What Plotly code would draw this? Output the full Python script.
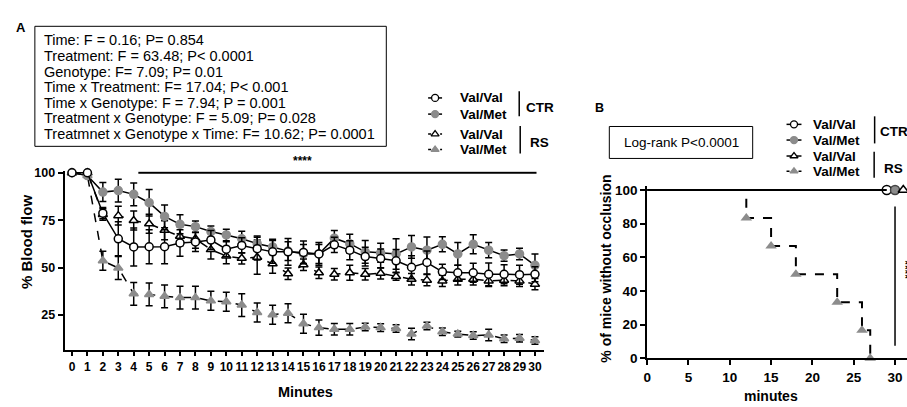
import plotly.graph_objects as go

# ---------------- Panel A data ----------------
minutes = list(range(31))
x_ticks_a = list(range(31))
y_ticks_a = [25, 50, 75, 100]

ctr_valval = [100, 100, 78.7, 65.2, 60.9, 61, 61, 63, 63.5, 64.5, 59.7, 61.7, 60, 58.3, 58.3,
              58, 57.2, 62, 59.2, 55.8, 54.8, 53.6, 50.2, 52.7, 47.8, 47.3, 47.3, 46.5, 46.5, 46.3, 46.5]
ctr_valval_err = [0, 0, 3, 9, 10, 9, 9, 7, 5, 5, 4, 4, 6, 6, 7,
                  6, 6, 4, 5, 5, 5, 6, 6, 6, 4, 4, 5, 6, 5, 5, 4]
ctr_valmet = [100, 98.5, 89.8, 90.6, 88.6, 84.2, 77, 72.8, 71.6, 69, 67.2, 65.2, 62.6, 60.9, 58.7,
              57.2, 57.2, 65.5, 62.6, 58.3, 57.8, 57.2, 60.9, 59.2, 62.3, 57.2, 62.3, 59.2, 56.3, 57.2, 51.2]
ctr_valmet_err = [0, 0, 5, 6, 6, 7, 6, 5, 3, 3, 3, 4, 4, 4, 5,
                  5, 5, 4, 5, 6, 5, 8, 6, 7, 4, 6, 5, 4, 3, 3, 6]
rs_valval = [100, 100, 78, 77.4, 74.8, 73.1, 69.7, 66.5, 65.2, 59.5, 56.1, 54.9, 55.5, 52, 46.8,
             51.5, 47.3, 46.5, 47.3, 46.5, 47, 45.3, 43.9, 43.4, 43, 43.9, 43.9, 43, 43.4, 43, 41.3]
rs_valval_err = [0, 0, 3, 5, 5, 5, 5, 5, 5, 5, 4, 3, 9, 5, 3,
                 3, 3, 3, 4, 3, 3, 2, 3, 3, 3, 3, 3, 3, 3, 3, 3]
rs_valmet = [100, 98.5, 53.6, 49.8, 36.2, 35.9, 34.9, 34.2, 34.2, 32.5, 32, 30.3, 26.4, 25.2, 26,
             20.4, 18.4, 17.5, 17.5, 18.7, 18.4, 17.9, 15, 19.2, 16.2, 15, 14.2, 14.5, 12.5, 12.8, 11.6]
rs_valmet_err = [0, 0, 5, 6, 6, 6, 6, 6, 6, 5, 5, 6, 5, 5, 5,
                 5, 4, 3, 3, 2, 2, 2, 3, 2, 2, 1.5, 2, 3, 2, 2, 2]
signif_span = [4.3, 30.1]

stats_lines = [
    "Time: F = 0.16; P= 0.854",
    "Treatment: F = 63.48; P< 0.0001",
    "Genotype: F= 7.09; P= 0.01",
    "Time x Treatment: F= 17.04; P< 0.001",
    "Time x Genotype: F = 7.94; P = 0.001",
    "Treatment x Genotype: F = 5.09; P= 0.028",
    "Treatmnet x Genotype x Time: F= 10.62; P= 0.0001",
]

# ---------------- Panel B data ----------------
km_rs_valmet_time = [0, 12, 15, 18, 23, 26, 27]
km_rs_valmet_pct = [100, 83.3, 66.7, 50, 33.3, 16.7, 0]
km_ctr_time = [0, 29]
km_ctr_pct = [100, 100]
censor_time = [29, 30, 31]   # end markers (Val/Val CTR, Val/Met CTR, Val/Val RS) as drawn
censor_pct = [100, 100, 100]
x_ticks_b = [0, 5, 10, 15, 20, 25, 30]
y_ticks_b = [0, 20, 40, 60, 80, 100]

FONT = "Liberation Sans, Arial, Helvetica, sans-serif"
GRAY = "#8c8c8c"
W, H = 907, 407

fig = go.Figure()

err_style = dict(type="data", thickness=1.5, width=3.5, color="black")

def series(x, y, e, symbol, fill, dash, name):
    fig.add_trace(go.Scatter(
        x=x, y=y, mode="lines+markers", name=name, xaxis="x", yaxis="y",
        line=dict(color="black", width=1.5, dash=dash),
        marker=dict(symbol=symbol, size=8, color=fill, line=dict(color="black" if fill == "white" else fill, width=1.5)),
        error_y=dict(array=e, **err_style), cliponaxis=False, showlegend=False))

series(minutes, rs_valmet, rs_valmet_err, "triangle-up", GRAY, "dash", "RS Val/Met")
series(minutes, rs_valval, rs_valval_err, "triangle-up", "white", "dash", "RS Val/Val")
series(minutes, ctr_valmet, ctr_valmet_err, "circle", GRAY, "solid", "CTR Val/Met")
series(minutes, ctr_valval, ctr_valval_err, "circle", "white", "solid", "CTR Val/Val")

# Panel B traces
fig.add_trace(go.Scatter(x=km_ctr_time, y=km_ctr_pct, mode="lines", xaxis="x2", yaxis="y2",
                         line=dict(color="black", width=2), cliponaxis=False, showlegend=False))
fig.add_trace(go.Scatter(x=km_rs_valmet_time, y=km_rs_valmet_pct, mode="lines", xaxis="x2", yaxis="y2",
                         line=dict(color="black", width=2, dash="dash", shape="hv"),
                         cliponaxis=False, showlegend=False))
fig.add_trace(go.Scatter(x=km_rs_valmet_time[1:], y=km_rs_valmet_pct[1:], mode="markers", xaxis="x2", yaxis="y2",
                         marker=dict(symbol="triangle-up", size=10, color=GRAY),
                         cliponaxis=False, showlegend=False))
fig.add_trace(go.Scatter(x=censor_time, y=censor_pct, mode="markers", xaxis="x2", yaxis="y2",
                         marker=dict(symbol=["circle-open", "circle", "triangle-up-open"], size=9,
                                     color=["black", GRAY, "black"], line=dict(width=1.5)),
                         cliponaxis=False, showlegend=False))

# ---------------- Legends (overlay pixel axis) ----------------
def leg_item(xl, xr, xm, y, symbol, fill, dash):
    fig.add_trace(go.Scatter(x=[xl, xr], y=[y, y], mode="lines", xaxis="x3", yaxis="y3",
                             line=dict(color="black", width=1.5, dash=dash), showlegend=False, hoverinfo="skip"))
    fig.add_trace(go.Scatter(x=[xm], y=[y], mode="markers", xaxis="x3", yaxis="y3",
                             marker=dict(symbol=symbol, size=7, color=fill,
                                         line=dict(color="black" if fill == "white" else fill, width=1.3)),
                             showlegend=False, hoverinfo="skip"))

leg_a_rows = [96, 112.7, 133.3, 149.3]
leg_b_rows = [123.3, 139.5, 156, 171.7]
leg_labels = ["Val/Val", "Val/Met", "Val/Val", "Val/Met"]
leg_a_sym = [("circle", "white", "solid"), ("circle", GRAY, "solid"),
             ("triangle-up", "white", "3px,3px"), ("triangle-up", GRAY, "3px,3px")]
leg_b_sym = [("circle", "white", "solid"), ("circle", GRAY, "solid"),
             ("triangle-up", "white", "solid"), ("triangle-up", GRAY, "3px,3px")]

annotations = []
shapes = []

def ann(x, y, text, size, bold=False, xanchor="left", textangle=0, yanchor="middle"):
    annotations.append(dict(x=x, y=y, xref="x3", yref="y3", text=f"<b>{text}</b>" if bold else text,
                            showarrow=False, xanchor=xanchor, yanchor=yanchor, textangle=textangle,
                            font=dict(family=FONT, size=size, color="black")))

for y, lab, (sym, fill, dash) in zip(leg_a_rows, leg_labels, leg_a_sym):
    leg_item(426, 440, 433, y, sym, fill, dash)
    ann(456, y, lab, 13.5, bold=True)
for y, lab, (sym, fill, dash) in zip(leg_b_rows, leg_labels, leg_b_sym):
    leg_item(786, 801, 793.5, y, sym, fill, dash)
    ann(811, y, lab, 13.5, bold=True)

# brackets
for (x, y0, y1) in [(517.5, 89, 115), (518.5, 125, 153.5), (874.5, 115, 143), (874, 151.5, 178.5)]:
    shapes.append(dict(type="line", xref="x3", yref="y3", x0=x, x1=x, y0=y0, y1=y1,
                       line=dict(color="black", width=1.5)))
ann(522, 106, "CTR", 13.5, bold=True)
ann(526, 142, "RS", 13.5, bold=True)
ann(877.5, 131, "CTR", 13.5, bold=True)
ann(882, 169, "RS", 13.5, bold=True)

# panel labels
ann(17, 23, "A", 13, bold=True, xanchor="center")
ann(598.5, 106, "B", 12.5, bold=True, xanchor="center")

# stats box
shapes.append(dict(type="rect", xref="x3", yref="y3", x0=31, x1=384, y0=22, y1=146,
                   line=dict(color="black", width=1)))
for i, t in enumerate(stats_lines):
    ann(38, 36.5 + i * 16.1, t, 14.5)

# log-rank box
shapes.append(dict(type="rect", xref="x3", yref="y3", x0=608, x1=752, y0=125.5, y1=158.5,
                   line=dict(color="black", width=1)))
ann(680, 142, "Log-rank P<0.0001", 13.5, xanchor="center")

# significance marks
shapes.append(dict(type="line", xref="x", yref="y", x0=signif_span[0], x1=signif_span[1], y0=100, y1=100,
                   line=dict(color="black", width=2)))
ann(300, 161, "****", 12, bold=True, xanchor="center")
shapes.append(dict(type="line", xref="x2", yref="y2", x0=30, x1=30, y0=7.5, y1=90.2,
                   line=dict(color="black", width=1.5)))
ann(905, 273, "****", 12, bold=True, xanchor="center", textangle=90)

# axis titles
ann(22, 245, "% Blood flow", 15, bold=True, xanchor="center", textangle=-90)
ann(303, 400, "Minutes", 14.5, bold=True, xanchor="center")
ann(605, 272, "% of mice without occlusion", 14, bold=True, xanchor="center", textangle=-90)
ann(770, 404, "minutes", 14, bold=True, xanchor="center")

axis_common = dict(showgrid=False, zeroline=False, showline=True, linecolor="black", linewidth=2,
                   ticks="outside", tickcolor="black", tickwidth=2, mirror=False, tickangle=0)

fig.update_layout(
    width=W, height=H, autosize=False,
    margin=dict(l=0, r=0, t=0, b=0),
    paper_bgcolor="white", plot_bgcolor="rgba(0,0,0,0)",
    showlegend=False,
    font=dict(family=FONT, color="black"),
    xaxis=dict(domain=[61 / W, 542 / W], range=[-0.47, 30.56], tickvals=x_ticks_a, ticklen=4,
               tickfont=dict(family=FONT, size=12, color="black", weight="bold"), anchor="y", **axis_common),
    yaxis=dict(domain=[1 - 356.7 / H, 1 - 171.7 / H], range=[6.43, 100.8], tickvals=y_ticks_a, ticklen=5,
               tickfont=dict(family=FONT, size=12.5, color="black", weight="bold"), anchor="x", **axis_common),
    xaxis2=dict(domain=[646 / W, 1.0], range=[0, 31.45], tickvals=x_ticks_b, ticklen=5,
                tickfont=dict(family=FONT, size=13.5, color="black", weight="bold"), anchor="y2", **axis_common),
    yaxis2=dict(domain=[1 - 365 / H, 1 - 186.7 / H], range=[0, 102.5], tickvals=y_ticks_b, ticklen=5,
                tickfont=dict(family=FONT, size=13.5, color="black", weight="bold"), anchor="x2", **axis_common),
    xaxis3=dict(domain=[0, 1], range=[0, W], visible=False, fixedrange=True, anchor="y3"),
    yaxis3=dict(domain=[0, 1], range=[H, 0], visible=False, fixedrange=True, anchor="x3"),
    annotations=annotations,
    shapes=shapes,
)

fig.write_html("out.html", config={"displayModeBar": False},
               post_script="document.body.style.margin='0';document.body.style.padding='0';"
                           "document.documentElement.style.margin='0';document.body.style.overflow='hidden';")
